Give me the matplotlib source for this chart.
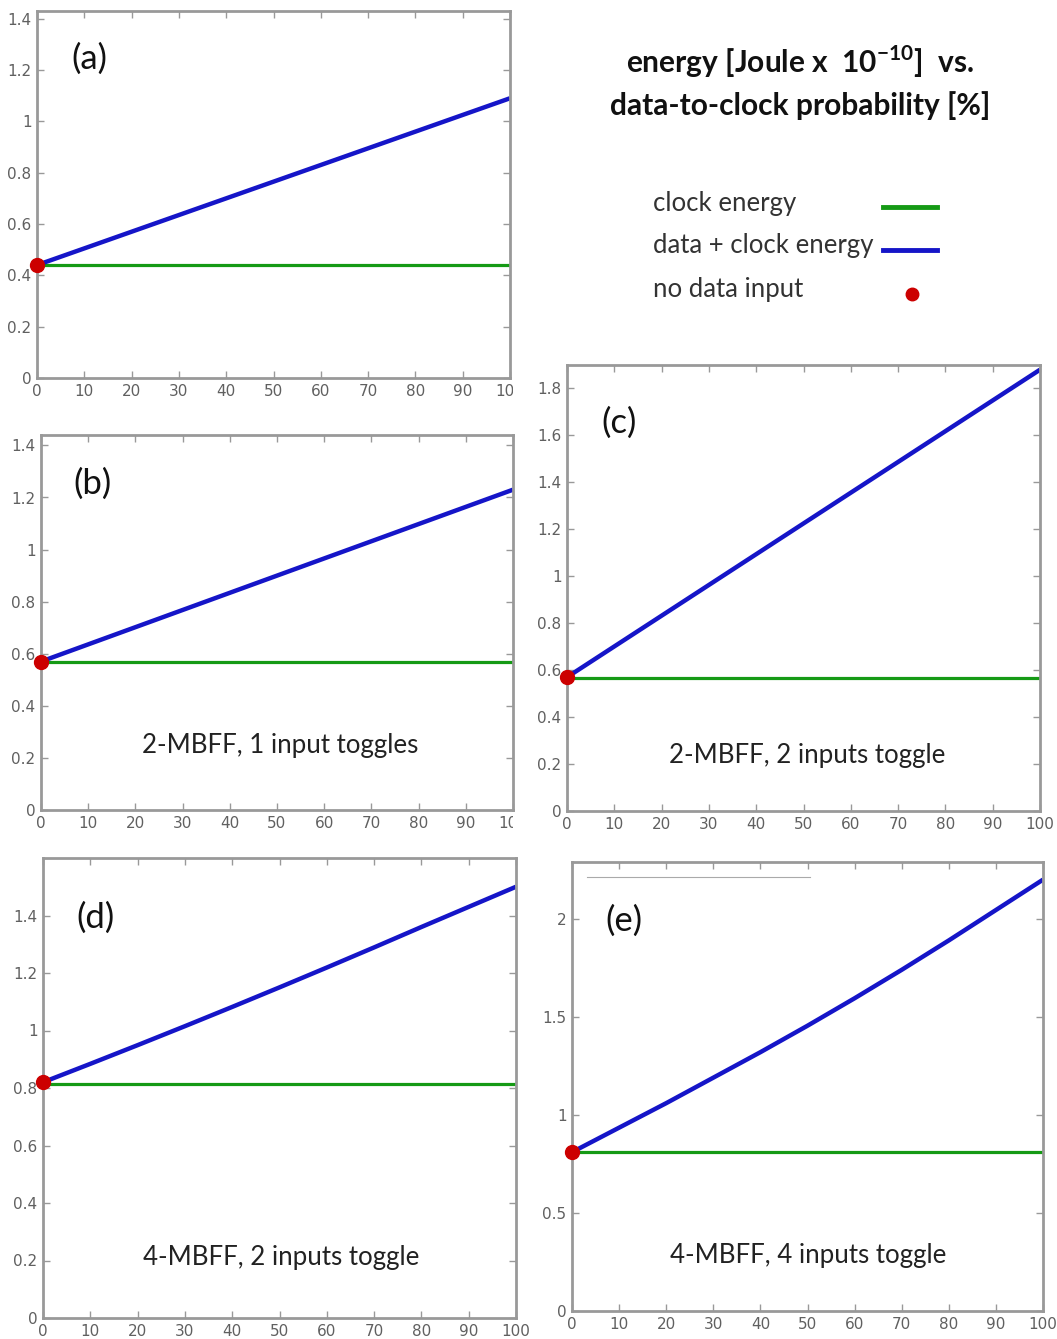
import numpy as np
import matplotlib
matplotlib.use('Agg')
import matplotlib.pyplot as plt
from matplotlib.ticker import FuncFormatter
from matplotlib.lines import Line2D
from matplotlib.transforms import Bbox

plt.rcParams['font.family'] = ['Lato', 'DejaVu Sans']
plt.rcParams['mathtext.fontset'] = 'custom'
plt.rcParams['mathtext.rm'] = 'Lato'
plt.rcParams['mathtext.bf'] = 'Lato:bold'

# data-to-clock probability [%]
prob = [0, 10, 20, 30, 40, 50, 60, 70, 80, 90, 100]

# energy [J x 1e-10]
total_a = [0.44, 0.505, 0.57, 0.635, 0.70, 0.765, 0.83, 0.895, 0.96, 1.025, 1.09]
total_b = [0.57, 0.636, 0.702, 0.768, 0.834, 0.90, 0.966, 1.032, 1.098, 1.164, 1.23]
total_c = [0.57, 0.701, 0.832, 0.963, 1.094, 1.225, 1.356, 1.487, 1.618, 1.749, 1.88]
total_d = [0.82, 0.884, 0.949, 1.015, 1.082, 1.15, 1.219, 1.289, 1.36, 1.43, 1.50]
total_e = [0.81, 0.935, 1.06, 1.19, 1.32, 1.455, 1.595, 1.74, 1.89, 2.045, 2.20]

clock_a = 0.44
clock_b = 0.57
clock_c = 0.565
clock_d = 0.815
clock_e = 0.81

labels = ['(a)', '(b)', '(c)', '(d)', '(e)']
notes = ['', '2-MBFF, 1 input toggles', '2-MBFF, 2 inputs toggle',
         '4-MBFF, 2 inputs toggle', '4-MBFF, 4 inputs toggle']
ytop = [1.43, 1.44, 1.90, 1.60, 2.29]
ymaxtick = [1.4, 1.4, 1.8, 1.4, 2.0]
ystep = [0.2, 0.2, 0.2, 0.2, 0.5]

W, H = 1057, 1339
fig = plt.figure(figsize=(W / 100, H / 100), dpi=100)

def rect(l, t, r, b):
    return [l / W, 1 - b / H, (r - l) / W, (b - t) / H]

boxes = [rect(37, 11, 510, 378), rect(41, 435, 513, 810), rect(567, 365, 1040, 811),
         rect(43, 858, 516, 1318), rect(572, 862, 1043, 1311)]
totals = [total_a, total_b, total_c, total_d, total_e]
clocks = [clock_a, clock_b, clock_c, clock_d, clock_e]

BLUE = '#1515c8'
GREEN = '#159a15'
RED = '#cc0000'
GRAY = '#999999'
tickfont = ['Liberation Sans Narrow', 'DejaVu Sans Condensed', 'DejaVu Sans']

axes = []
for i in range(5):
    ax = fig.add_axes(boxes[i])
    ax.plot(prob, [clocks[i]] * len(prob), color=GREEN, lw=2.3, solid_capstyle='butt')
    ax.plot(prob, totals[i], color=BLUE, lw=3.2, solid_capstyle='butt',
            solid_joinstyle='round')
    ax.plot([0], [totals[i][0]], 'o', color=RED, ms=10, clip_on=False, zorder=5)
    ax.set_xlim(0, 100)
    ax.set_ylim(0, ytop[i])
    ax.set_xticks(prob)
    ax.set_yticks(np.arange(0, ymaxtick[i] + 1e-9, ystep[i]))
    ax.yaxis.set_major_formatter(FuncFormatter(lambda v, p: '%g' % round(v, 2)))
    ax.tick_params(direction='in', top=True, right=True, length=5, width=1,
                   color=GRAY, labelcolor='#606060', labelsize=11, pad=4)
    for lab in ax.get_xticklabels() + ax.get_yticklabels():
        lab.set_family(tickfont)
    for s in ax.spines.values():
        s.set_color(GRAY)
        s.set_linewidth(2)
    ax.text(0.11, 0.87, labels[i], transform=ax.transAxes,
            fontsize=25, ha='center', va='center', color='#111111')
    axes.append(ax)

# panel notes
note_pos = [None, (280, 745), (807, 755), (281, 1258), (808, 1256)]
for i in range(1, 5):
    x, y = note_pos[i]
    fig.text(x / W, 1 - y / H, notes[i], fontsize=18.6, ha='center', va='center',
             color='#222222')

# stray thin line in panel (e)
axes[4].plot([3.2, 50.5], [2.214, 2.214], color='#aaaaaa', lw=0.8)

# clip cropped "100" labels on left column
clip = Bbox([[0, 0], [513, H]])
for ax in (axes[0], axes[1]):
    fig.canvas.draw()
    lab = ax.get_xticklabels()[-1]
    lab.set_clip_box(clip)
    lab.set_clip_on(True)

# title
fig.text(800 / W, 1 - 62 / H, r'energy [Joule x  10$^{\mathbf{-10}}$]  vs.', fontsize=21.5,
         fontweight='bold', ha='center', va='center', color='#111111')
fig.text(800 / W, 1 - 106 / H, 'data-to-clock probability [%]', fontsize=21.5,
         fontweight='bold', ha='center', va='center', color='#111111')

# legend
leg_txt = ['clock energy', 'data + clock energy', 'no data input']
leg_y = [203, 246, 290]
for t, y in zip(leg_txt, leg_y):
    fig.text(653 / W, 1 - y / H, t, fontsize=18.5, ha='left', va='center', color='#333333')
fig.add_artist(Line2D([883 / W, 937 / W], [1 - 207 / H] * 2, color=GREEN, lw=3.5))
fig.add_artist(Line2D([883 / W, 937 / W], [1 - 250 / H] * 2, color=BLUE, lw=3.5))
fig.add_artist(Line2D([912 / W], [1 - 294 / H], marker='o', color=RED, ms=9, lw=0))

fig.savefig('out.png', dpi=100)
